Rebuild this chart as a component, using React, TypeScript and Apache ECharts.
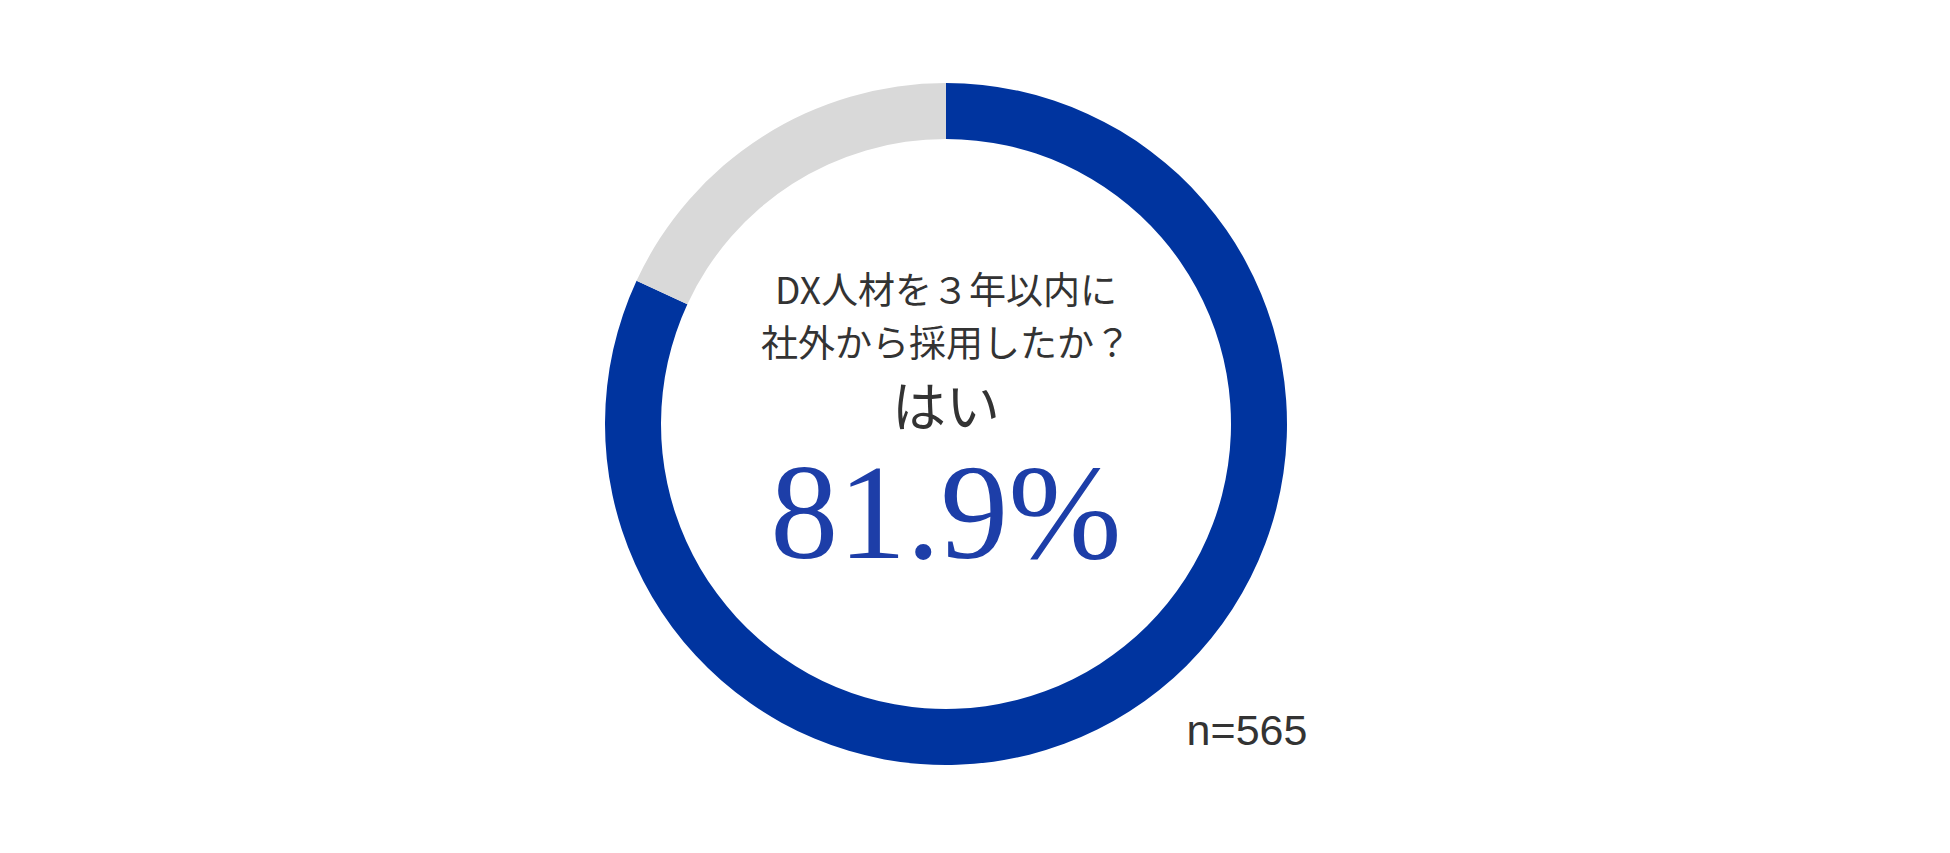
import { useEffect, useRef } from "react";
import * as echarts from "echarts";

// answer categories and their shares (%)
const categories = ["はい", "いいえ"];
const values = [81.9, 18.1];
const sampleSize = 565;
const question = ["DX人材を３年以内に", "社外から採用したか？"];

const COLORS = ["#00349F", "#D9D9D9"];

export default function App() {
  const chartRef = useRef<HTMLDivElement>(null);

  useEffect(() => {
    document.body.style.margin = "0";
    if (!chartRef.current) return;
    const chart = echarts.init(chartRef.current, undefined, { renderer: "svg" });

    const cx = 946;
    const cy = 424;

    chart.setOption({
      animation: false,
      backgroundColor: "#ffffff",
      series: [
        {
          type: "pie",
          center: [cx, cy],
          radius: [285, 341],
          startAngle: 90,
          clockwise: true,
          label: { show: false },
          labelLine: { show: false },
          emphasis: { disabled: true },
          silent: true,
          data: categories.map((name, i) => ({
            name,
            value: values[i],
            itemStyle: { color: COLORS[i] },
          })),
        },
      ],
      graphic: [
        {
          type: "text",
          x: cx,
          y: 314,
          style: {
            text: question.join("\n"),
            fill: "#333333",
            font: '400 37px "Noto Sans CJK JP"',
            lineHeight: 53,
            textAlign: "center",
            textVerticalAlign: "middle",
          },
        },
        {
          type: "text",
          x: cx,
          y: 403,
          style: {
            text: categories[0],
            fill: "#333333",
            font: '400 54px "Noto Sans CJK JP"',
            textAlign: "center",
            textVerticalAlign: "middle",
          },
        },
        {
          type: "text",
          x: cx,
          y: 512,
          style: {
            text: `${values[0]}%`,
            fill: "#1D3EA8",
            font: '400 136px "Liberation Serif"',
            textAlign: "center",
            textVerticalAlign: "middle",
          },
        },
        {
          type: "text",
          x: 1247,
          y: 730,
          style: {
            text: `n=${sampleSize}`,
            fill: "#333333",
            font: '400 43px "Liberation Sans"',
            textAlign: "center",
            textVerticalAlign: "middle",
          },
        },
      ],
    });

    return () => chart.dispose();
  }, []);

  return <div ref={chartRef} style={{ width: "1950px", height: "853px" }} />;
}
